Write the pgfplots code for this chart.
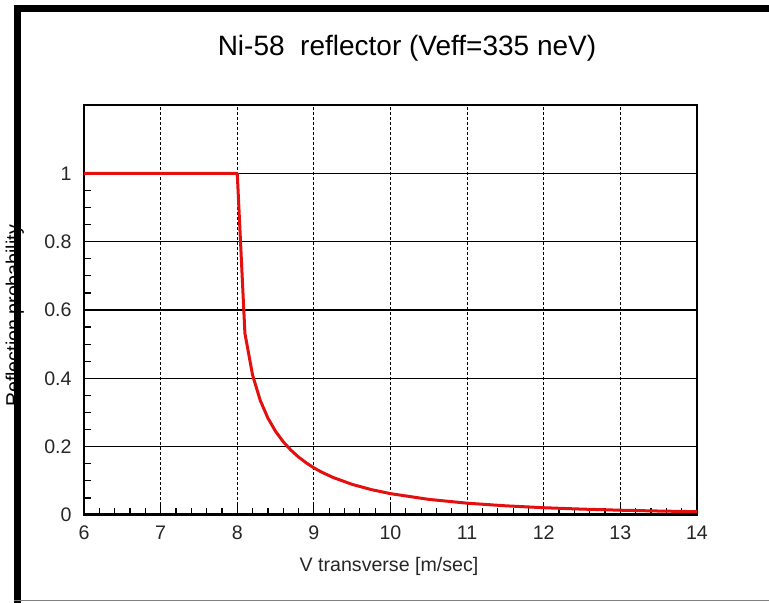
\documentclass[border=0pt]{standalone}
\usepackage{pgfplots}
\pgfplotsset{compat=1.18}
\usepackage{fontspec}
\setmainfont{Liberation Sans}
\definecolor{curvered}{RGB}{228,16,16}
\begin{document}
\begin{tikzpicture}
\useasboundingbox (-42pt,-44pt) rectangle (342.5pt,257.5pt);
% y label (partly hidden by the frame bar)
\node[rotate=90, anchor=base, font=\fontsize{9.8}{12}\selectfont] at (-32pt,99.5pt) {Reflection probability};
\begin{axis}[
  at={(0pt,0pt)}, anchor=south west,
  scale only axis, width=306.5pt, height=205pt,
  xmin=6, xmax=14, ymin=0, ymax=1.2,
  xtick={6,7,8,9,10,11,12,13,14},
  ytick={0,0.2,0.4,0.6,0.8,1},
  minor x tick num=4, minor y tick num=3,
  xtick pos=bottom, ytick pos=left,
  tick align=inside,
  major tick length=6pt, minor tick length=3.5pt,
  tick style={black, line width=0.6pt},
  xmajorgrids, ymajorgrids,
  x grid style={black, line width=0.5pt, dash pattern=on 1.5pt off 1pt},
  y grid style={black, line width=0.6pt},
  axis line style={black, line width=1pt},
  /pgf/number format/assume math mode=true,
  ticklabel style={font=\fontsize{9.8}{12}\selectfont, text=black!85},
  xticklabel style={yshift=-2pt},
  yticklabel style={xshift=-2.7pt},
  clip=true,
]
\addplot[curvered, line width=1.5pt, line join=round] coordinates {
(6,1) (8,1) (8.1,0.5316) (8.2,0.4096) (8.3,0.3355) (8.4,0.2837)
(8.5,0.2449) (8.6,0.2145) (8.7,0.1899) (8.8,0.1696) (8.9,0.1526)
(9,0.1381) (9.1,0.1256) (9.25,0.1099) (9.5,0.0896) (9.75,0.0743)
(10,0.0625) (10.5,0.0457) (11,0.0346) (11.5,0.0269) (12,0.0213)
(12.5,0.0172) (13,0.0140) (13.5,0.0116) (14,0.0097)
};
\draw[black, line width=1.5pt] (axis cs:6,0) -- (axis cs:14,0);
\end{axis}
% title and x label
\node[anchor=base, font=\fontsize{14}{16}\selectfont] at (161.5pt,229.5pt) {Ni-58\ \ reflector (Veff=335 neV)};
\node[anchor=base, font=\fontsize{9.8}{12}\selectfont, text=black!85] at (152.5pt,-28.5pt) {V transverse [m/sec]};
% frame
\draw[black, line width=3.5pt] (-33.25pt,-44pt) -- (-33.25pt,255pt);
\draw[black, line width=3.5pt] (-35pt,253.25pt) -- (342.5pt,253.25pt);
\draw[gray, line width=0.5pt] (-35pt,-43pt) -- (342.5pt,-43pt);
\end{tikzpicture}
\end{document}
